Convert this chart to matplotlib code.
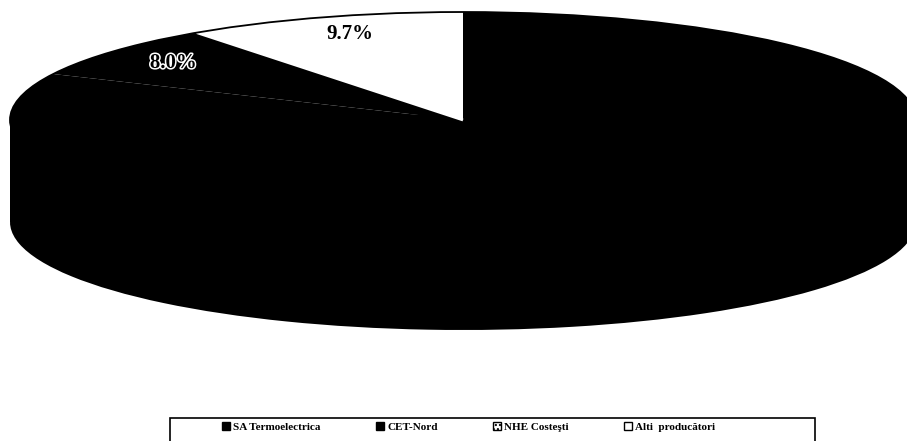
import matplotlib
matplotlib.use("Agg")
import matplotlib.pyplot as plt
from matplotlib.patches import Rectangle, Patch, Ellipse
import matplotlib.patheffects as pe

# ---- data ----
categories = ["SA Termoelectrica", "CET-Nord", "NHE Costeşti", "Alti  producători"]
values = [82.0, 8.0, 0.3, 9.7]
shown_labels = [False, True, False, True]
face_colors = ["black", "black", "white", "white"]

W, H = 907, 441
fig = plt.figure(figsize=(W / 100, H / 100), dpi=100)
ax = fig.add_axes([0, 0, 1, 1])

# geometry of the tilted pie (pixel-based)
cx_px, cy_px = 463, 120          # centre of the top face (from top)
rx_px, ry_px = 453, 108          # semi axes
depth_px = 102
depth = depth_px / ry_px

# side of the cylinder
ax.pie(values, startangle=90, counterclock=False, colors=["black"] * len(values),
       center=(0, -depth), wedgeprops=dict(linewidth=0))
ax.add_patch(Rectangle((-1, -depth), 2, depth, facecolor="black", edgecolor="none", zorder=0.5))

# top face
state = {"i": 0}
def fmt(p):
    i = state["i"]
    state["i"] += 1
    return f"{p:.1f}%" if shown_labels[i] else ""

wedges, texts, autotexts = ax.pie(values, startangle=90, counterclock=False,
                                  colors=face_colors, autopct=fmt, pctdistance=0.83,
                                  wedgeprops=dict(linewidth=0),
                                  textprops=dict(family="Liberation Serif", fontweight="bold",
                                                 fontsize=15))
for w in wedges:
    w.set_zorder(2)
wedges[2].set_edgecolor("white")
wedges[2].set_linewidth(2.0)
wedges[2].set_zorder(2.5)
ax.add_patch(Ellipse((0, 0), 2, 2, facecolor="none", edgecolor="black",
                     linewidth=1.3, zorder=2.6))
for t in autotexts:
    t.set_zorder(3)
autotexts[1].set_color("black")
autotexts[1].set_path_effects([pe.withStroke(linewidth=2.2, foreground="white")])

ax.set_aspect("auto")
ax.set_xlim(-cx_px / rx_px, (W - cx_px) / rx_px)
ax.set_ylim(-(H - cy_px) / ry_px, cy_px / ry_px)
ax.axis("off")

# legend
handles = [Patch(facecolor="black", edgecolor="black"),
           Patch(facecolor="black", edgecolor="black"),
           Patch(facecolor="white", edgecolor="black", hatch="...."),
           Patch(facecolor="white", edgecolor="black")]
leg = fig.legend(handles, categories, loc="center left", bbox_to_anchor=(222 / W, 14 / H),
                 ncol=4, frameon=False, handlelength=0.7, handleheight=0.7,
                 handletextpad=0.3, columnspacing=5.0, borderaxespad=0, borderpad=0,
                 prop=dict(family="Liberation Serif", weight="bold", size=8))
fig.add_artist(Rectangle((170 / W, -0.05), (815 - 170) / W, 0.05 + 23 / H,
                         transform=fig.transFigure, facecolor="none",
                         edgecolor="black", linewidth=1.2))

fig.savefig("out.png", dpi=100)
